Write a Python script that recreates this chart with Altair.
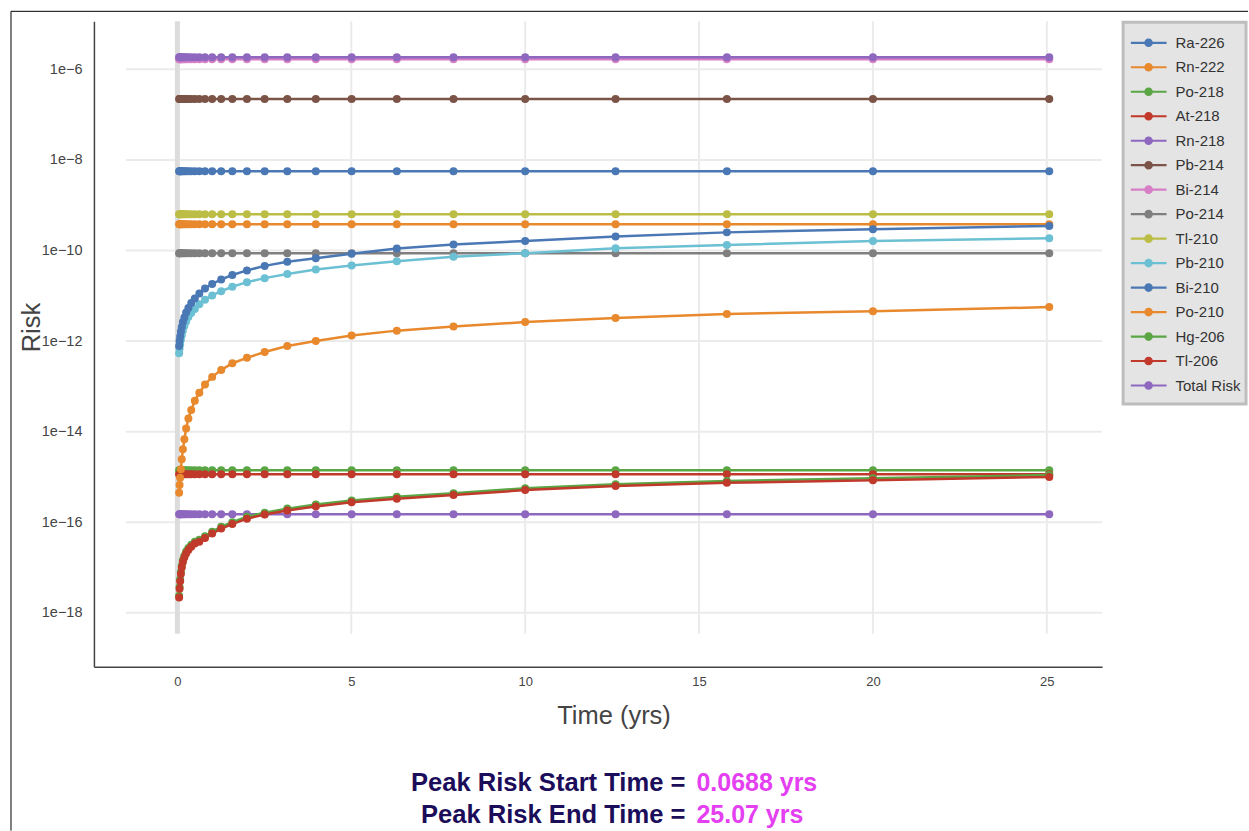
import altair as alt
import pandas as pd

# ---------------- data ----------------
times = [0.0501, 0.0631, 0.0794, 0.1, 0.126, 0.158, 0.2, 0.251, 0.316, 0.398,
         0.501, 0.631, 0.794, 1.0, 1.26, 1.58, 2.0, 2.51, 3.16, 3.98,
         5.01, 6.31, 7.94, 10.0, 12.6, 15.8, 20.0, 25.07]

series_names = ["Ra-226", "Rn-222", "Po-218", "At-218", "Rn-218", "Pb-214", "Bi-214",
                "Po-214", "Tl-210", "Pb-210", "Bi-210", "Po-210", "Hg-206", "Tl-206",
                "Total Risk"]
series_colors = ["#4a78b5", "#e8892e", "#5aa544", "#c0392b", "#8e68bf", "#7c5447", "#d67fc6",
                 "#7f7f7f", "#bcbd45", "#6cc0d3", "#4a78b5", "#e8892e", "#5aa544", "#c0392b",
                 "#8e68bf"]

# nuclides whose risk stays flat over the whole period
flat_levels = {
    "Ra-226": 5.6e-9,
    "Rn-222": 3.8e-10,
    "Po-218": 1.40e-15,
    "At-218": 1.15e-15,
    "Rn-218": 1.51e-16,
    "Pb-214": 2.21e-7,
    "Bi-214": 1.66e-6,
    "Po-214": 8.7e-11,
    "Tl-210": 6.33e-10,
    "Total Risk": 1.84e-6,
}

bi210 = [7.76e-13, 1.0e-12, 1.26e-12, 1.62e-12, 2.04e-12, 2.63e-12, 3.31e-12, 4.27e-12,
         5.37e-12, 6.92e-12, 8.71e-12, 1.12e-11, 1.45e-11, 1.82e-11, 2.29e-11, 2.88e-11,
         3.63e-11, 4.57e-11, 5.62e-11, 6.76e-11, 8.51e-11, 1.10e-10, 1.35e-10, 1.62e-10,
         2.04e-10, 2.51e-10, 2.95e-10, 3.47e-10]
pb210 = [5.37e-13, 6.76e-13, 8.51e-13, 1.07e-12, 1.35e-12, 1.70e-12, 2.14e-12, 2.69e-12,
         3.39e-12, 4.17e-12, 5.13e-12, 6.46e-12, 8.13e-12, 1.02e-11, 1.26e-11, 1.58e-11,
         2.0e-11, 2.45e-11, 3.02e-11, 3.80e-11, 4.68e-11, 5.75e-11, 7.24e-11, 8.71e-11,
         1.12e-10, 1.32e-10, 1.62e-10, 1.86e-10]
po210 = [4.47e-16, 6.61e-16, 9.55e-16, 1.48e-15, 2.45e-15, 4.07e-15, 6.76e-15, 1.17e-14,
         1.95e-14, 3.02e-14, 4.79e-14, 7.24e-14, 1.10e-13, 1.62e-13, 2.29e-13, 3.24e-13,
         4.27e-13, 5.75e-13, 7.76e-13, 1.0e-12, 1.32e-12, 1.70e-12, 2.09e-12, 2.63e-12,
         3.24e-12, 3.98e-12, 4.57e-12, 5.62e-12]
hg206 = [2.4e-18, 3.7e-18, 5.5e-18, 8.0e-18, 1.1e-17, 1.45e-17, 1.83e-17, 2.25e-17,
         2.7e-17, 3.17e-17, 3.73e-17, 4.1e-17, 4.9e-17, 6.2e-17, 8.0e-17, 1.0e-16,
         1.32e-16, 1.63e-16, 2.0e-16, 2.46e-16, 3.03e-16, 3.64e-16, 4.38e-16, 5.64e-16,
         6.94e-16, 8.15e-16, 9.36e-16, 1.1e-15]
tl206 = [2.19e-18, 3.39e-18, 5.01e-18, 7.24e-18, 1.0e-17, 1.32e-17, 1.66e-17, 2.04e-17,
         2.45e-17, 2.88e-17, 3.39e-17, 3.72e-17, 4.47e-17, 5.62e-17, 7.24e-17, 9.12e-17,
         1.20e-16, 1.48e-16, 1.82e-16, 2.24e-16, 2.75e-16, 3.31e-16, 3.98e-16, 5.13e-16,
         6.31e-16, 7.41e-16, 8.51e-16, 1.0e-15]

risk_ticks = [1e-18, 1e-16, 1e-14, 1e-12, 1e-10, 1e-8, 1e-6]
time_ticks = [0, 5, 10, 15, 20, 25]
time_grid = [5, 10, 15, 20, 25]
time_zero = [0]

note_labels = ["Peak Risk Start Time =", "Peak Risk End Time ="]
note_values = ["0.0688 yrs", "25.07 yrs"]

growing = {"Pb-210": pb210, "Bi-210": bi210, "Po-210": po210, "Hg-206": hg206, "Tl-206": tl206}
rows = []
for name in series_names:
    for i, t in enumerate(times):
        v = growing[name][i] if name in growing else flat_levels[name]
        rows.append({"time": t, "risk": v, "series": name})
df = pd.DataFrame(rows)

# ---------------- chart ----------------
FONT = "Liberation Sans"
W, H = 1009, 646

xs = alt.Scale(domain=[-2.40, 26.59], nice=False, zero=False)
ys = alt.Scale(type="log", domain=[6.44e-20, 1.146e-5], nice=False)
cs = alt.Scale(domain=series_names, range=series_colors)

xaxis = alt.Axis(values=time_ticks, format="d", grid=False, ticks=False, domainColor="#444",
                 domainWidth=1.5, labelFont=FONT, labelFontSize=13, labelColor="#444",
                 labelPadding=9, title="Time (yrs)", titleFont=FONT, titleFontSize=25.5,
                 titleFontWeight="normal", titleColor="#444", titlePadding=15, titleX=520)
yaxis = alt.Axis(values=risk_ticks, format=".0e", grid=False, ticks=False, domainColor="#444",
                 domainWidth=1.5, labelFont=FONT, labelFontSize=14.5, labelColor="#444",
                 labelPadding=12, labelExpr="replace(datum.label, '-', '\u2212')",
                 title="Risk", titleFont=FONT, titleFontSize=25.5,
                 titleFontWeight="normal", titleColor="#444", titleX=-54, titleY=306,
                 titleBaseline="alphabetic", titleAlign="center", titleAngle=270)

sym = ("M-1,-0.06L1,-0.06L1,0.06L-1,0.06Z "
       "M-0.24,0A0.24,0.24 0 1,1 0.24,0A0.24,0.24 0 1,1 -0.24,0Z")

legend = alt.Legend(title=None, orient="none", legendX=1037.5, legendY=9.5, symbolType=sym,
                    symbolSize=1296, symbolStrokeWidth=0, labelFont=FONT, labelFontSize=15,
                    labelColor="#333", padding=0, clipHeight=24, rowPadding=0.5, labelOffset=9)

hgrid = alt.Chart(pd.DataFrame({"risk": risk_ticks})).mark_rule(color="#ebebeb", strokeWidth=2).encode(
    y=alt.Y("risk:Q", scale=ys, axis=yaxis), x=alt.value(32), x2=alt.value(W))
vgrid = alt.Chart(pd.DataFrame({"time": time_grid})).mark_rule(color="#ebebeb", strokeWidth=2).encode(
    x=alt.X("time:Q", scale=xs, axis=xaxis), y=alt.value(0), y2=alt.value(613))
zline = alt.Chart(pd.DataFrame({"time": time_zero})).mark_rule(color="#dcdcdc", strokeWidth=5).encode(
    x=alt.X("time:Q", scale=xs, axis=xaxis), y=alt.value(0), y2=alt.value(613))

lines = alt.Chart(df).mark_line(strokeWidth=2.5).encode(
    x=alt.X("time:Q", scale=xs, axis=xaxis),
    y=alt.Y("risk:Q", scale=ys, axis=yaxis),
    stroke=alt.Stroke("series:N", scale=cs, legend=legend),
)
points = alt.Chart(df).mark_circle(size=64, opacity=1).encode(
    x=alt.X("time:Q", scale=xs, axis=xaxis),
    y=alt.Y("risk:Q", scale=ys, axis=yaxis),
    fill=alt.Fill("series:N", scale=cs, legend=legend),
)

one = pd.DataFrame({"a": [0]})
legend_box = alt.Chart(one).mark_rect(fill="#e4e4e4", stroke="#bdbdbd", strokeWidth=3).encode(
    x=alt.value(1030), x2=alt.value(1153), y=alt.value(1), y2=alt.value(383))
frame_top = alt.Chart(one).mark_rule(color="black", strokeWidth=1).encode(
    x=alt.value(-83), x2=alt.value(1155), y=alt.value(-10))
frame_left = alt.Chart(one).mark_rule(color="black", strokeWidth=1).encode(
    x=alt.value(-83), y=alt.value(-10), y2=alt.value(810))

note_style = dict(font=FONT, fontWeight="bold", baseline="alphabetic")
n1a = alt.Chart(one).mark_text(align="right", color="#1c0d5a", fontSize=25.6, **note_style).encode(
    x=alt.value(592), y=alt.value(770), text=alt.value(note_labels[0]))
n1b = alt.Chart(one).mark_text(align="left", color="#e440f2", fontSize=25, **note_style).encode(
    x=alt.value(603), y=alt.value(770), text=alt.value(note_values[0]))
n2a = alt.Chart(one).mark_text(align="right", color="#1c0d5a", fontSize=25.6, **note_style).encode(
    x=alt.value(592), y=alt.value(802), text=alt.value(note_labels[1]))
n2b = alt.Chart(one).mark_text(align="left", color="#e440f2", fontSize=25, **note_style).encode(
    x=alt.value(603), y=alt.value(802), text=alt.value(note_values[1]))

chart = alt.layer(hgrid, vgrid, zline, lines, points, legend_box, frame_top, frame_left,
                  n1a, n1b, n2a, n2b).properties(
    width=W, height=H, padding={"left": 10, "top": 10, "right": 0, "bottom": 0},
    background="white",
).configure_view(strokeWidth=0)

chart.save("out.html", embed_options={"renderer": "svg", "actions": False})
